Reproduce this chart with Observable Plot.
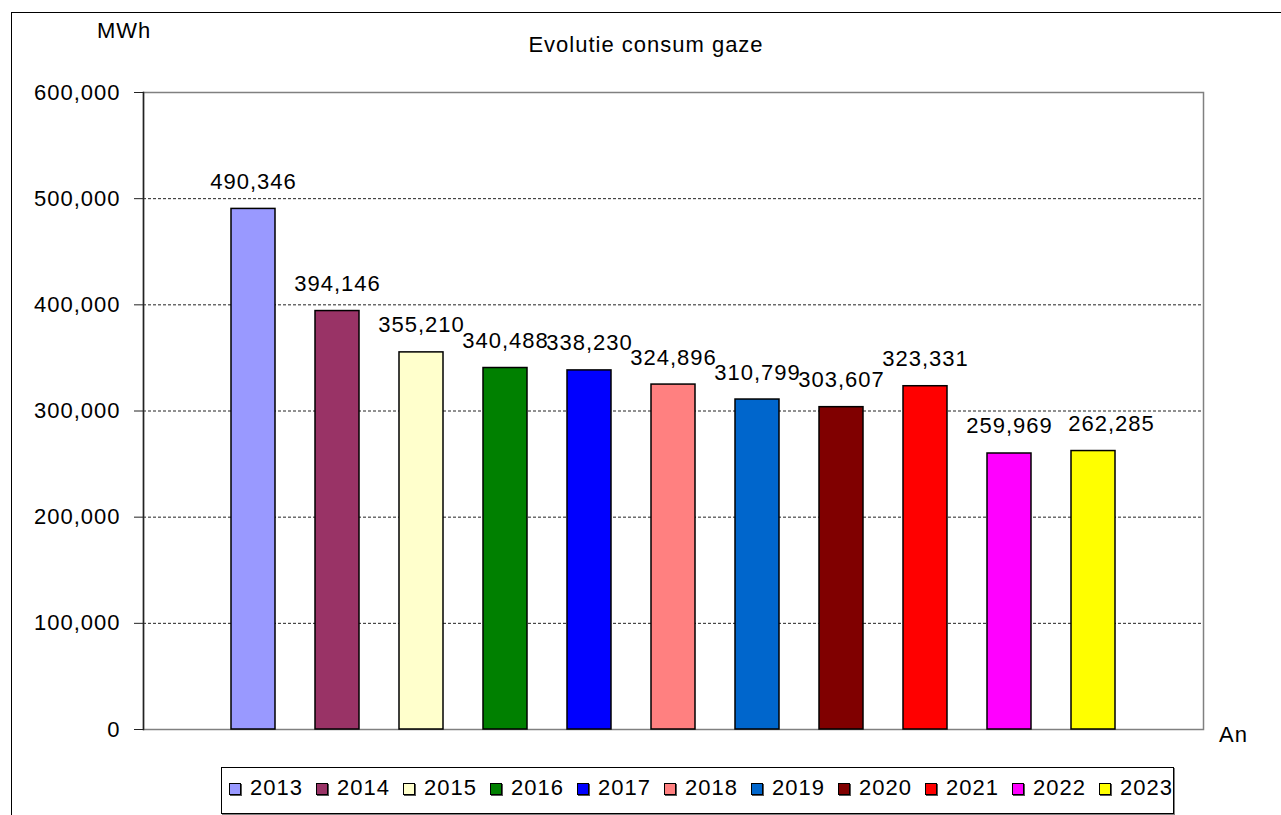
<!DOCTYPE html>
<html>
<head>
<meta charset="utf-8">
<script src="https://cdn.jsdelivr.net/npm/d3@7"></script>
<script src="https://cdn.jsdelivr.net/npm/@observablehq/plot@0.6"></script>
<style>
  html, body { margin: 0; padding: 0; background: #fff; overflow: hidden; }
  #wrap { position: relative; width: 1281px; height: 815px; overflow: hidden;
          font-family: "Liberation Sans", Arial, sans-serif; font-size: 22px; letter-spacing: 1px; color: #000; }
  #chart { position: absolute; left: 0; top: 0; }
  .lbl { position: absolute; line-height: 22px; white-space: nowrap; }
  #outer { position: absolute; left: 11px; top: 12px; width: 1400px; height: 900px;
           border-left: 1.5px solid #000; border-top: 1.5px solid #000; }
  #legend { position: absolute; left: 221px; top: 767px; width: 951px; height: 45px;
            border: 1px solid #000; box-shadow: 1px 1px 0 #808080; background: #fff; }
  .item { position: absolute; top: 0; height: 45px; }
  .sw { position: absolute; top: 15px; width: 10px; height: 10px; border: 1.5px solid #000; box-shadow: 1px 1px 0 #555; }
  .tx { position: absolute; top: 9px; left: 21px; line-height: 22px; }
</style>
</head>
<body>
<div id="wrap">
  <div id="outer"></div>
  <div id="chart"></div>
  <div class="lbl" style="left:97px; top:20px;">MWh</div>
  <div class="lbl" id="title" style="left:0; width:1292px; text-align:center; top:34px;">Evolutie consum gaze</div>
  <div class="lbl" style="left:1219px; top:724px;">An</div>
  <div id="legend"></div>
</div>
<script>
const years = ["2013","2014","2015","2016","2017","2018","2019","2020","2021","2022","2023"];
const values = [490346, 394146, 355210, 340488, 338230, 324896, 310799, 303607, 323331, 259969, 262285];
const colors = ["#9999FF","#993366","#FFFFCC","#008000","#0000FF","#FF8080","#0066CC","#800000","#FF0000","#FF00FF","#FFFF00"];
const yTicks = [0, 100000, 200000, 300000, 400000, 500000, 600000];
const gridTicks = [100000, 200000, 300000, 400000, 500000];

const data = years.map((y, i) => ({year: y, value: values[i]}));
const fmt = d3.format(",");
const mainLabels = data.slice(0, -1);
const lastLabel = data.slice(-1);

const chart = Plot.plot({
  width: 1281,
  height: 815,
  marginLeft: 143,
  marginRight: 78,
  marginTop: 92,
  marginBottom: 86,
  style: {fontFamily: "'Liberation Sans', Arial, sans-serif", fontSize: "22px", letterSpacing: "1px", background: "transparent", overflow: "visible"},
  x: {type: "band", domain: years, paddingInner: 0.472, paddingOuter: 1.023, axis: null},
  y: {domain: [0, 600000]},
  color: {domain: years, range: colors},
  marks: [
    Plot.ruleY(gridTicks, {stroke: "#222", strokeWidth: 1, strokeDasharray: "3,2"}),
    Plot.frame({stroke: "#808080", strokeWidth: 1.5}),
    Plot.frame({anchor: "left", stroke: "#222", strokeWidth: 1.5}),
    Plot.axisY({ticks: yTicks, tickFormat: fmt, tickSize: 9, tickPadding: 14, label: null, stroke: "#222", fontSize: 22}),
    Plot.barY(data, {x: "year", y: "value", fill: "year", stroke: "#000", strokeWidth: 1.5}),
    Plot.text(mainLabels, {x: "year", y: "value", text: d => fmt(d.value), lineAnchor: "bottom", dy: -20, fontSize: 22, fill: "#000"}),
    Plot.text(lastLabel, {x: "year", y: "value", text: d => fmt(d.value), lineAnchor: "bottom", dy: -20, dx: 18, fontSize: 22, fill: "#000"})
  ]
});
document.getElementById("chart").appendChild(chart);

const legend = document.getElementById("legend");
years.forEach((y, i) => {
  const item = document.createElement("div");
  item.className = "item";
  item.style.left = (7 + i * 87) + "px";
  const sw = document.createElement("div");
  sw.className = "sw";
  sw.style.background = colors[i];
  const tx = document.createElement("div");
  tx.className = "tx";
  tx.textContent = y;
  item.appendChild(sw);
  item.appendChild(tx);
  legend.appendChild(item);
});
</script>
</body>
</html>
